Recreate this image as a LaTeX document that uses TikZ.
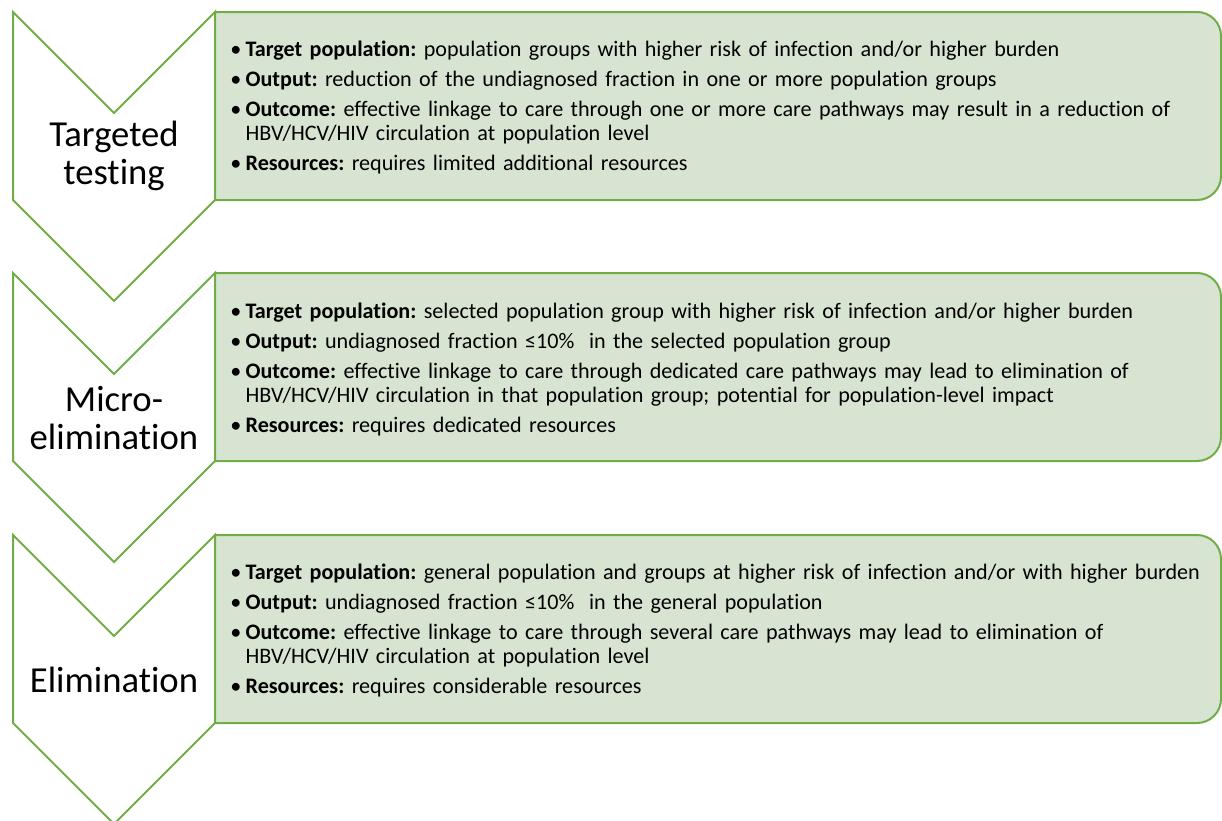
\documentclass[tikz,border=0pt]{standalone}
\usepackage{fontspec}
\setmainfont{Carlito}[Ligatures={TeX,NoCommon}]
\definecolor{stagegreen}{RGB}{112,173,71}
\definecolor{boxfill}{RGB}{216,228,210}
% one bullet line of an info box
\newcommand{\stageitem}[2]{\par\hangindent=11.5pt\hangafter=1\noindent\makebox[11.5pt][l]{\textbullet}\textbf{#1} #2}
\newcommand{\wrapline}{\hfil\break}

\begin{document}
\begin{tikzpicture}[
  x=0.75pt, y=-0.75pt,
  chevron/.style={draw=stagegreen, line width=1.5pt, fill=white, line join=miter},
  infobox/.style={draw=stagegreen, line width=1.5pt, fill=boxfill},
  stagelabel/.style={font=\fontsize{27.5}{29}\selectfont, align=center, inner sep=0pt},
  bullets/.style={anchor=west, inner sep=0pt, text width=780pt, align=left, font=\fontsize{16.6}{18}\selectfont\frenchspacing}
]
\useasboundingbox (0,0) rectangle (1222,821);

% Stage 1: Targeted testing
\draw[chevron] (13,12) -- (114,113) -- (215,12) -- (215,200) -- (114,301) -- (13,200) -- cycle;
\draw[infobox] (215,106) [sharp corners] -- (215,12) -- (700,12) [rounded corners=18pt] -- (1221,12) -- (1221,200) -- (700,200) [sharp corners] -- (215,200) -- cycle;
\node[stagelabel] (label1) at (114,156) {Targeted\\testing};
\node[bullets] (info1) at (230,100.5) {\setlength{\parskip}{4.5pt}%
  \stageitem{Target population:}{population groups with higher risk of infection and/or higher burden}
  \stageitem{Output:}{reduction of the undiagnosed fraction in one or more population groups}
  \stageitem{Outcome:}{effective linkage to care through one or more care pathways may result in a reduction of\wrapline HBV/HCV/HIV circulation at population level}
  \stageitem{Resources:}{requires limited additional resources}\par};

% Stage 2: Micro-elimination
\draw[chevron] (13,273) -- (114,374) -- (215,273) -- (215,461) -- (114,562) -- (13,461) -- cycle;
\draw[infobox] (215,367) [sharp corners] -- (215,273) -- (700,273) [rounded corners=18pt] -- (1221,273) -- (1221,461) -- (700,461) [sharp corners] -- (215,461) -- cycle;
\node[stagelabel] (label2) at (114,418) {Micro-\\elimination};
\node[bullets] (info2) at (230,362) {\setlength{\parskip}{4.5pt}%
  \stageitem{Target population:}{selected population group with higher risk of infection and/or higher burden}
  \stageitem{Output:}{undiagnosed fraction ≤10\%~ in the selected population group}
  \stageitem{Outcome:}{effective linkage to care through dedicated care pathways may lead to elimination of\wrapline HBV/HCV/HIV circulation in that population group; potential for population-level impact}
  \stageitem{Resources:}{requires dedicated resources}\par};

% Stage 3: Elimination
\draw[chevron] (13,535) -- (114,636) -- (215,535) -- (215,723) -- (114,824) -- (13,723) -- cycle;
\draw[infobox] (215,629) [sharp corners] -- (215,535) -- (700,535) [rounded corners=18pt] -- (1221,535) -- (1221,723) -- (700,723) [sharp corners] -- (215,723) -- cycle;
\node[stagelabel] (label3) at (114,680) {Elimination};
\node[bullets] (info3) at (230,623.5) {\setlength{\parskip}{4.5pt}%
  \stageitem{Target population:}{general population and groups at higher risk of infection and/or with higher burden}
  \stageitem{Output:}{undiagnosed fraction ≤10\%~ in the general population}
  \stageitem{Outcome:}{effective linkage to care through several care pathways may lead to elimination of\wrapline HBV/HCV/HIV circulation at population level}
  \stageitem{Resources:}{requires considerable resources}\par};

\end{tikzpicture}
\end{document}
